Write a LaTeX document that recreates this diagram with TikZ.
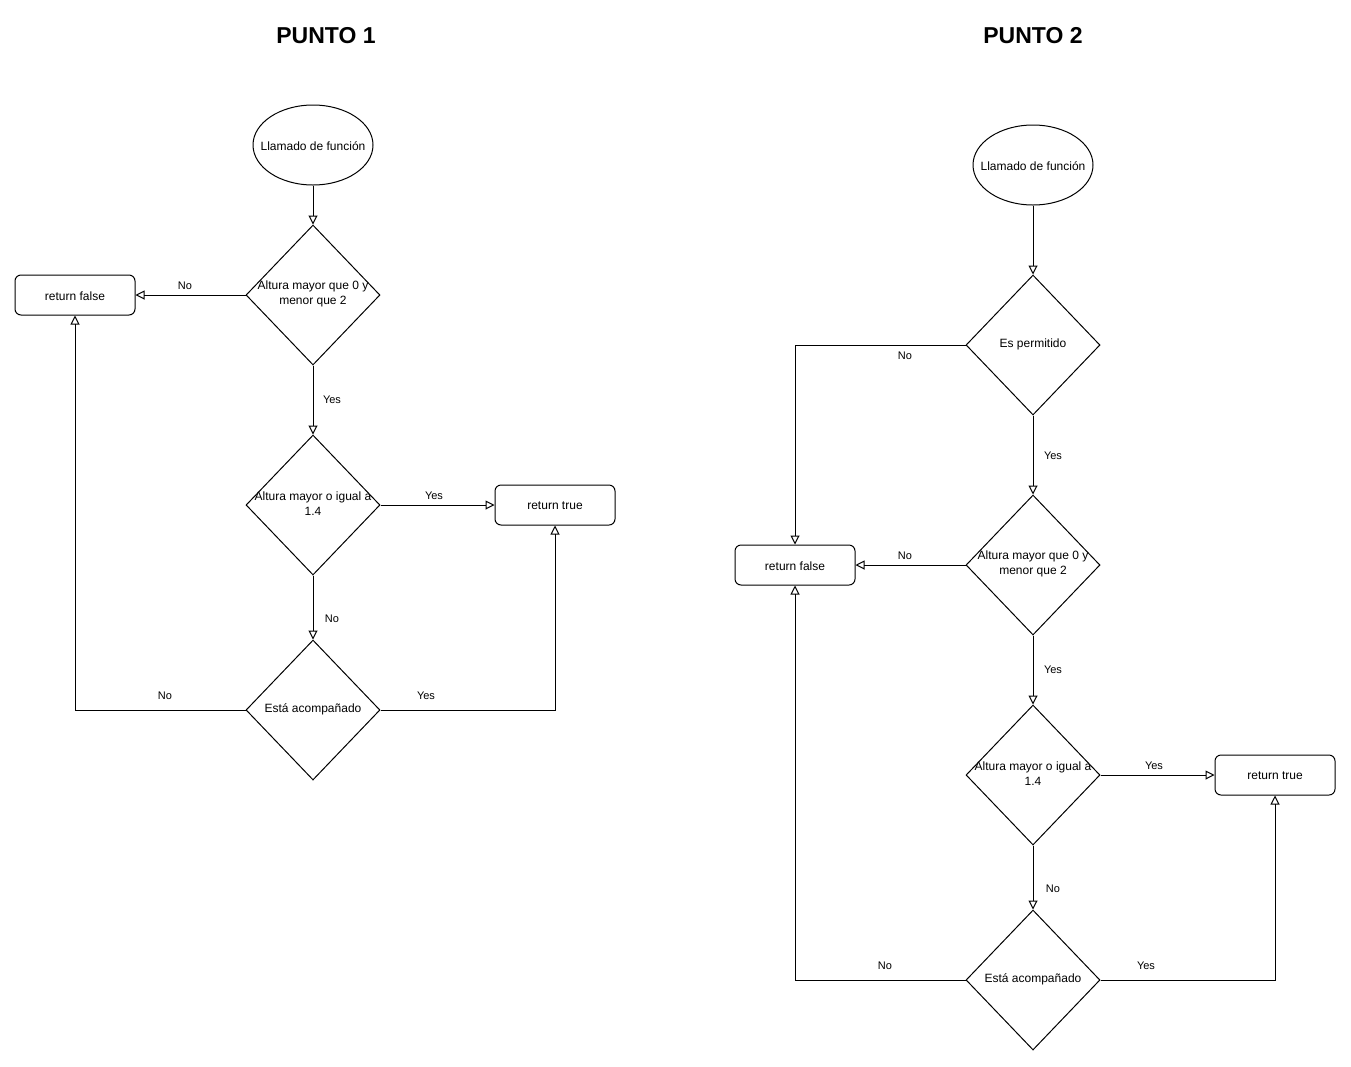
\documentclass[tikz,border=0pt]{standalone}
\usepackage{fontspec}
\setmainfont{Liberation Sans}
\usetikzlibrary{shapes.geometric,arrows.meta}
\begin{document}
\begin{tikzpicture}[x=1pt,y=-1pt,
  startnode/.style={draw,ellipse,minimum width=120pt,minimum height=80pt,inner sep=0pt,line width=1pt},
  decision/.style={draw,diamond,minimum width=134pt,minimum height=140pt,inner sep=0pt,line width=1pt},
  result/.style={draw,rounded corners=6pt,minimum width=120pt,minimum height=40pt,inner sep=0pt,line width=1pt,
    font=\fontsize{12}{15}\selectfont},
  caption/.style={align=center,inner sep=0pt,yshift=-1pt,font=\fontsize{12}{15}\selectfont},
  flow/.style={draw,line width=1pt,-{Triangle[open,length=9pt,width=9pt]}},
  lbl/.style={inner sep=0pt,yshift=-1pt,font=\fontsize{11}{13}\selectfont},
  heading/.style={inner sep=0pt,yshift=-1pt,font=\fontsize{23}{28}\selectfont\bfseries}]
\useasboundingbox[fill=white] (0,0) rectangle (1351,1066);

% ---------------- Punto 1 ----------------
\node[heading] (h1) at (326,35) {PUNTO 1};

\node[startnode] (s1) at (313,145) {};
\node[caption] (s1t) at (313,145) {Llamado de función};

\node[decision] (a1) at (313,295) {};
\node[caption] (a1t) at (313,293) {Altura mayor que 0 y\\menor que 2};

\node[decision] (b1) at (313,505) {};
\node[caption] (b1t) at (313,503) {Altura mayor o igual a\\1.4};

\node[decision] (c1) at (313,710) {};
\node[caption] (c1t) at (313,708) {Está acompañado};

\node[result] (f1) at (75,295) {};
\node[caption] (f1t) at (75,295) {return false};
\node[result] (t1) at (555,505) {};
\node[caption] (t1t) at (555,505) {return true};

\draw[flow] (s1) -- (a1);
\draw[flow] (a1.west) -- (f1.east);
\draw[flow] (a1.south) -- (b1.north);
\draw[flow] (b1.east) -- (t1.west);
\draw[flow] (b1.south) -- (c1.north);
\draw[flow] (c1.west) -| (f1.south);
\draw[flow] (c1.east) -| (t1.south);

\node[lbl] (l1a) at (185,285) {No};
\node[lbl] (l1b) at (332,399) {Yes};
\node[lbl] (l1c) at (434,495) {Yes};
\node[lbl] (l1d) at (332,618) {No};
\node[lbl] (l1e) at (165,695) {No};
\node[lbl] (l1f) at (426,695) {Yes};

% ---------------- Punto 2 ----------------
\node[heading] (h2) at (1033,35) {PUNTO 2};

\node[startnode] (s2) at (1033,165) {};
\node[caption] (s2t) at (1033,165) {Llamado de función};

\node[decision] (p2) at (1033,345) {};
\node[caption] (p2t) at (1033,343) {Es permitido};

\node[decision] (a2) at (1033,565) {};
\node[caption] (a2t) at (1033,563) {Altura mayor que 0 y\\menor que 2};

\node[decision] (b2) at (1033,775) {};
\node[caption] (b2t) at (1033,773) {Altura mayor o igual a\\1.4};

\node[decision] (c2) at (1033,980) {};
\node[caption] (c2t) at (1033,978) {Está acompañado};

\node[result] (f2) at (795,565) {};
\node[caption] (f2t) at (795,565) {return false};
\node[result] (t2) at (1275,775) {};
\node[caption] (t2t) at (1275,775) {return true};

\draw[flow] (s2) -- (p2);
\draw[flow] (p2.west) -| (f2.north);
\draw[flow] (p2.south) -- (a2.north);
\draw[flow] (a2.west) -- (f2.east);
\draw[flow] (a2.south) -- (b2.north);
\draw[flow] (b2.east) -- (t2.west);
\draw[flow] (b2.south) -- (c2.north);
\draw[flow] (c2.west) -| (f2.south);
\draw[flow] (c2.east) -| (t2.south);

\node[lbl] (l2a) at (905,355) {No};
\node[lbl] (l2b) at (1053,455) {Yes};
\node[lbl] (l2c) at (905,555) {No};
\node[lbl] (l2d) at (1053,669) {Yes};
\node[lbl] (l2e) at (1154,765) {Yes};
\node[lbl] (l2f) at (1053,888) {No};
\node[lbl] (l2g) at (885,965) {No};
\node[lbl] (l2h) at (1146,965) {Yes};
\end{tikzpicture}
\end{document}
